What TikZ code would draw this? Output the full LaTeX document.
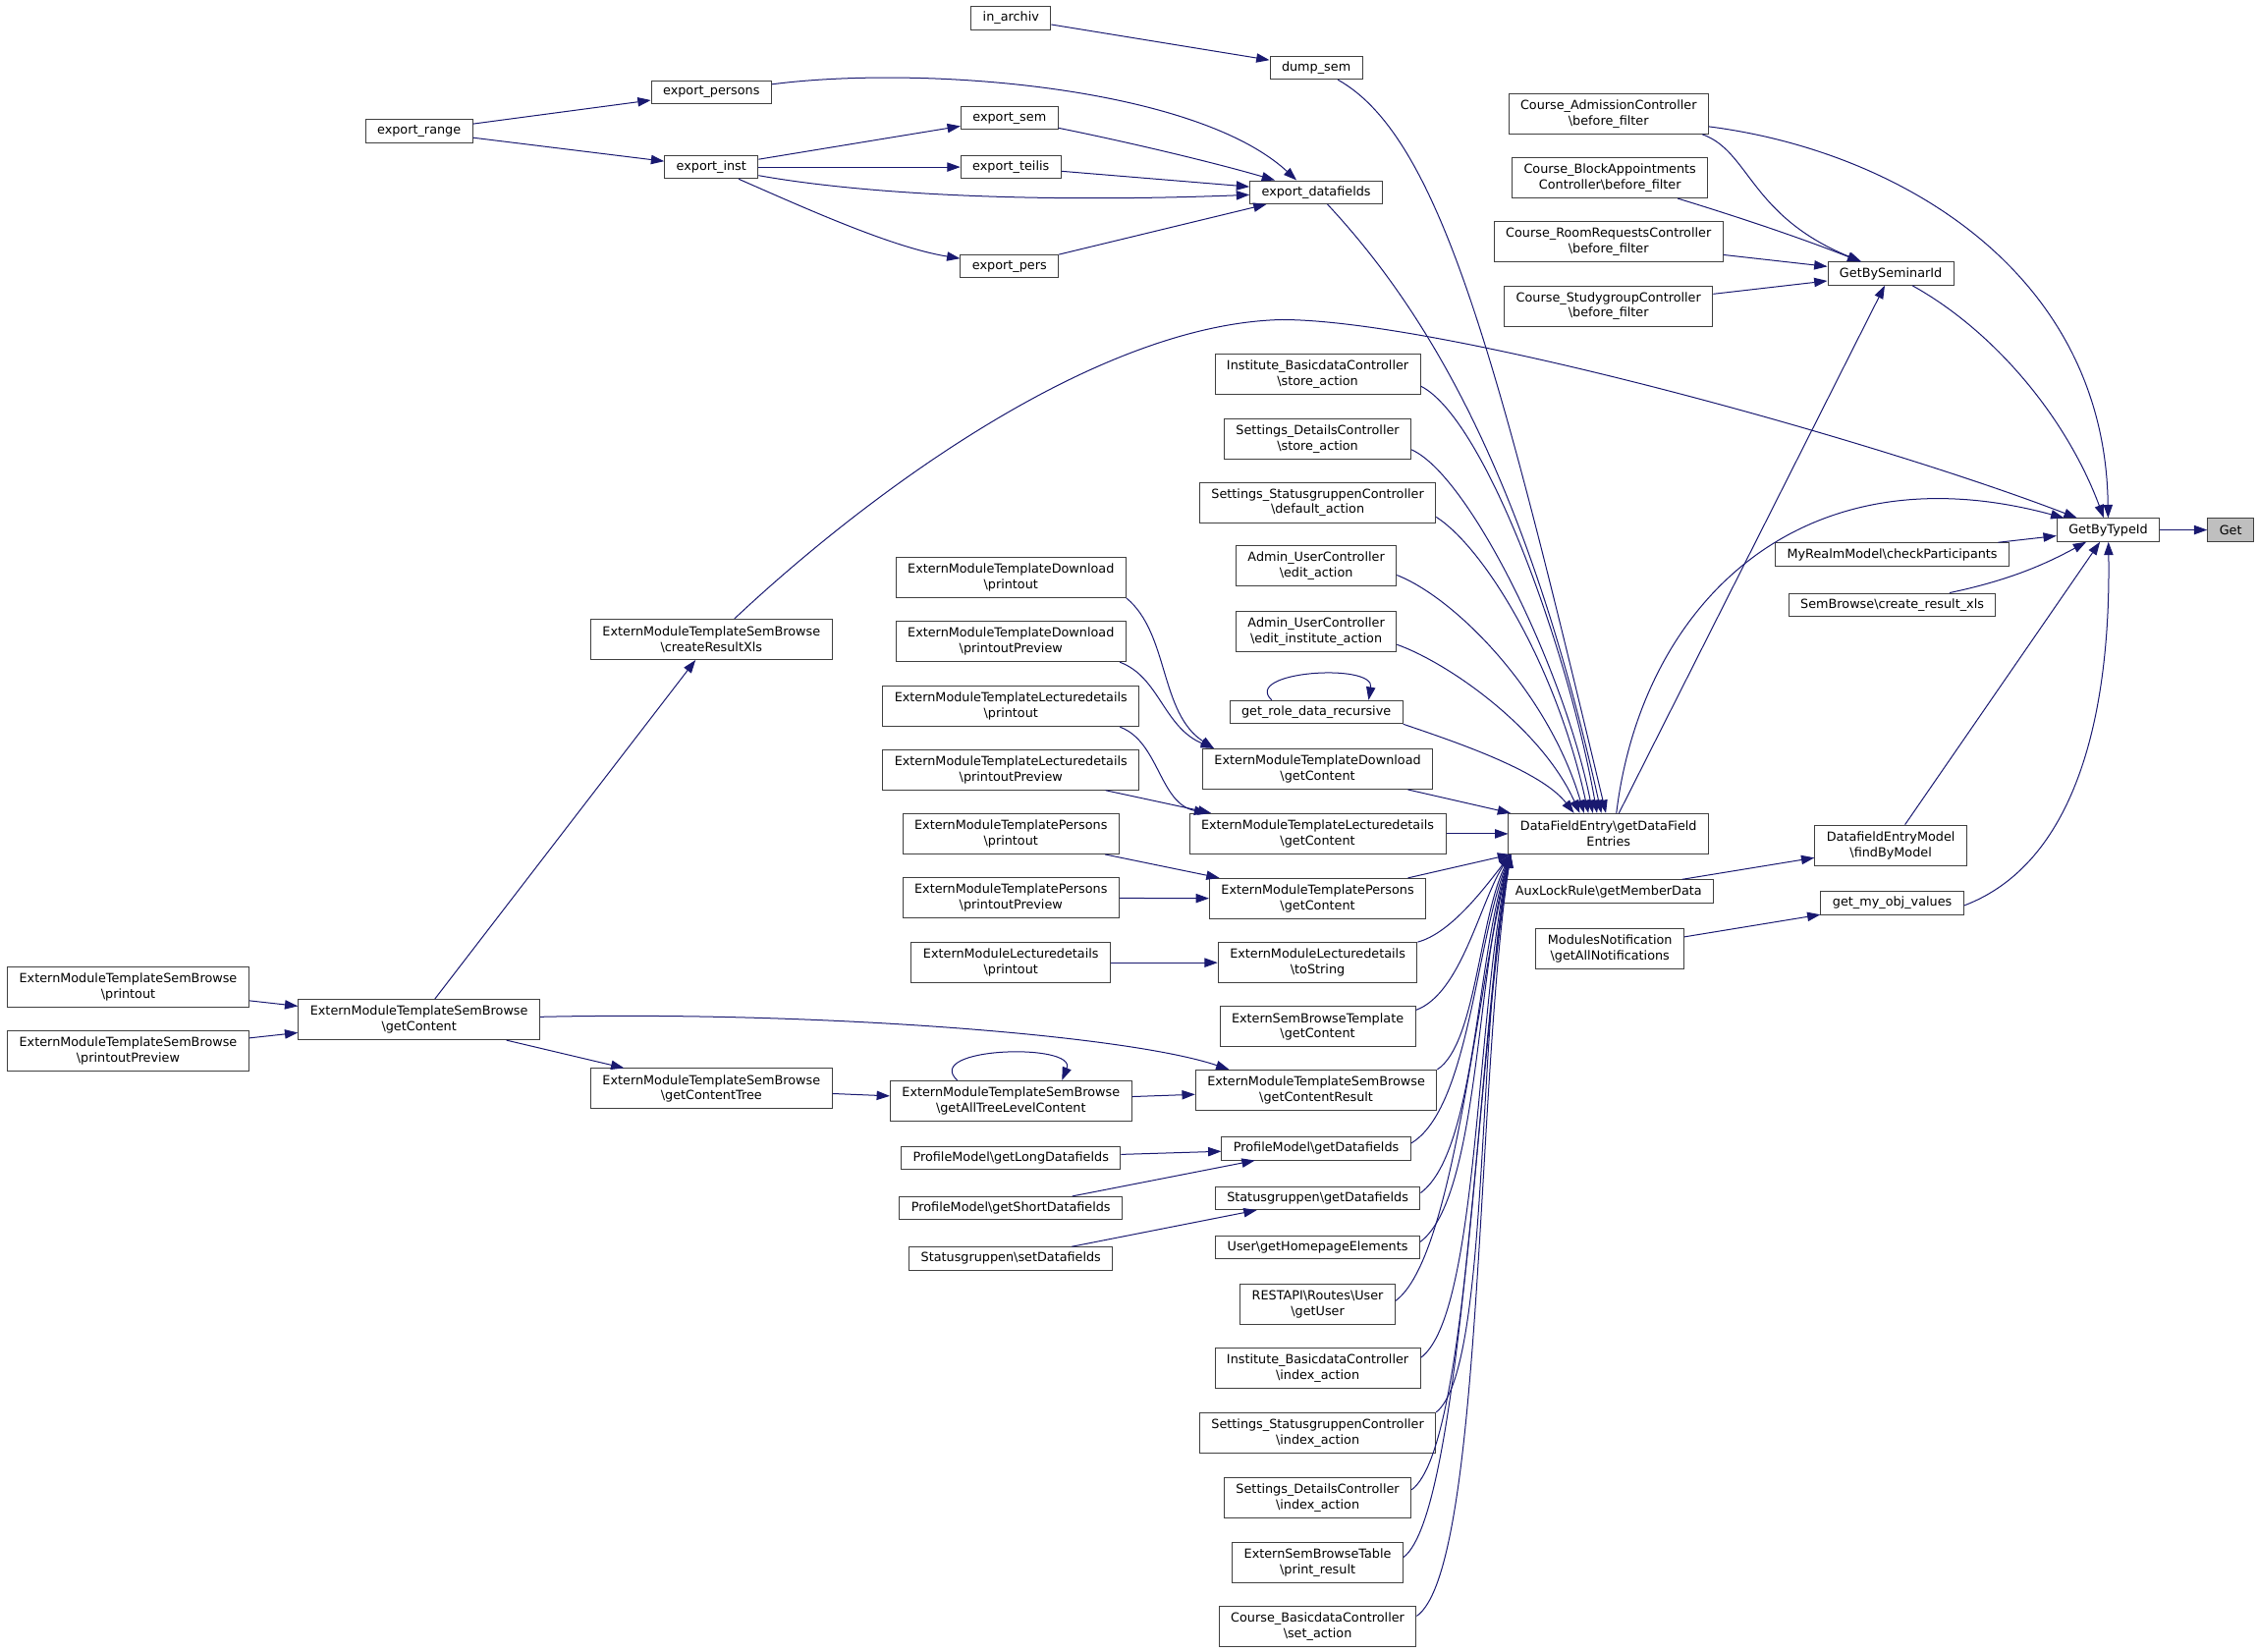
\documentclass[tikz,border=0pt]{standalone}
\usepackage{fontspec}
\setmainfont{DejaVu Sans}
\usetikzlibrary{arrows.meta,positioning}
\definecolor{edgeblue}{HTML}{191970}
\tikzstyle{fn} = [draw=black!75, fill=white, rectangle, line width=0.75pt, minimum height=17.6pt, inner ysep=0pt, inner xsep=9pt, align=center, font=\fontsize{9.6}{11.8}\selectfont]
\tikzstyle{fnn} = [fn, minimum height=30.8pt]
\tikzstyle{edge} = [->, draw=edgeblue, line width=0.75pt]
\newcommand{\bsl}{\textbackslash}

\begin{document}
\begin{tikzpicture}[x=1.1pt, y=-1.1pt, >={Triangle[length=10pt,width=7pt]}]
\useasboundingbox (0,0) rectangle (1568,1147);

% target and right side
\node [fn, fill=black!25] (get) at (1549,368) {Get};
\node [fn, left of=get, node distance=93.5pt] (gettype) {GetByTypeId};
\node [fn] (getsem) at (1313,190) {GetBySeminarId};
\node [fn] (realm) at (1314,385) {MyRealmModel\bsl checkParticipants};
\node [fn] (semxls) at (1314,420) {SemBrowse\bsl create\_result\_xls};
\node [fnn] (findmodel) at (1313,587) {DatafieldEntryModel\\\bsl findByModel};
\node [fn] (objval) at (1314,627) {get\_my\_obj\_values};

\node [fnn] (admis) at (1117,79) {Course\_AdmissionController\\\bsl before\_filter};
\node [fnn] (block) at (1118,123.5) {Course\_BlockAppointments\\Controller\bsl before\_filter};
\node [fnn] (room) at (1117,168) {Course\_RoomRequestsController\\\bsl before\_filter};
\node [fnn] (study) at (1117,212.5) {Course\_StudygroupController\\\bsl before\_filter};
\node [fnn] (dfe) at (1117,579) {DataFieldEntry\bsl getDataField\\Entries};
\node [fn] (aux) at (1117,619) {AuxLockRule\bsl getMemberData};
\node [fnn] (notif) at (1118,659) {ModulesNotification\\\bsl getAllNotifications};

% export functions
\node [fn] (inarchiv) at (702,12.5) {in\_archiv};
\node [fn] (dumpsem) at (914,47) {dump\_sem};
\node [fn] (exrange) at (291,91) {export\_range};
\node [fn] (expersons) at (494,64) {export\_persons};
\node [fn] (exinst) at (494,116) {export\_inst};
\node [fn] (exsem) at (701,82) {export\_sem};
\node [fn] (exteilis) at (702,116) {export\_teilis};
\node [fn] (expers) at (701,185) {export\_pers};
\node [fn] (exdf) at (914,133.5) {export\_datafields};

% callers of getDataFieldEntries
\node [fnn] (instore) at (915,260) {Institute\_BasicdataController\\\bsl store\_action};
\node [fnn] (setstore) at (915,305) {Settings\_DetailsController\\\bsl store\_action};
\node [fnn] (sgdefault) at (915,349) {Settings\_StatusgruppenController\\\bsl default\_action};
\node [fnn] (adminedit) at (914,393) {Admin\_UserController\\\bsl edit\_action};
\node [fnn] (admininst) at (914,438.5) {Admin\_UserController\\\bsl edit\_institute\_action};
\node [fn] (role) at (914,494.5) {get\_role\_data\_recursive};
\node [fnn] (dlgc) at (915,534) {ExternModuleTemplateDownload\\\bsl getContent};
\node [fnn] (ldgc) at (915,579) {ExternModuleTemplateLecturedetails\\\bsl getContent};
\node [fnn] (pegc) at (915,624) {ExternModuleTemplatePersons\\\bsl getContent};
\node [fnn] (tostr) at (915,668.5) {ExternModuleLecturedetails\\\bsl toString};
\node [fnn] (sbtpl) at (915,713) {ExternSemBrowseTemplate\\\bsl getContent};
\node [fnn] (result) at (914,757) {ExternModuleTemplateSemBrowse\\\bsl getContentResult};
\node [fn] (pmgd) at (914,797.5) {ProfileModel\bsl getDatafields};
\node [fn] (sggd) at (915,832) {Statusgruppen\bsl getDatafields};
\node [fn] (homepage) at (915,866) {User\bsl getHomepageElements};
\node [fnn] (rest) at (915,906) {RESTAPI\bsl Routes\bsl User\\\bsl getUser};
\node [fnn] (inindex) at (915,950) {Institute\_BasicdataController\\\bsl index\_action};
\node [fnn] (sgindex) at (915,995) {Settings\_StatusgruppenController\\\bsl index\_action};
\node [fnn] (setindex) at (915,1040) {Settings\_DetailsController\\\bsl index\_action};
\node [fnn] (sbtable) at (915,1085) {ExternSemBrowseTable\\\bsl print\_result};
\node [fnn] (setact) at (915,1129.5) {Course\_BasicdataController\\\bsl set\_action};

% printout column
\node [fnn] (dlprint) at (702,401) {ExternModuleTemplateDownload\\\bsl printout};
\node [fnn] (dlprev) at (702,445.5) {ExternModuleTemplateDownload\\\bsl printoutPreview};
\node [fnn] (ldprint) at (702,490.5) {ExternModuleTemplateLecturedetails\\\bsl printout};
\node [fnn] (ldprev) at (702,534.5) {ExternModuleTemplateLecturedetails\\\bsl printoutPreview};
\node [fnn] (peprint) at (702,579) {ExternModuleTemplatePersons\\\bsl printout};
\node [fnn] (peprev) at (702,623.5) {ExternModuleTemplatePersons\\\bsl printoutPreview};
\node [fnn] (lecprint) at (702,668.5) {ExternModuleLecturedetails\\\bsl printout};
\node [fnn] (treelevel) at (702,764.5) {ExternModuleTemplateSemBrowse\\\bsl getAllTreeLevelContent};
\node [fn] (pmlong) at (702,804) {ProfileModel\bsl getLongDatafields};
\node [fn] (pmshort) at (702,839) {ProfileModel\bsl getShortDatafields};
\node [fn] (sgset) at (702,874) {Statusgruppen\bsl setDatafields};

% SemBrowse module
\node [fnn] (xls) at (494,444) {ExternModuleTemplateSemBrowse\\\bsl createResultXls};
\node [fnn] (tree) at (494,756) {ExternModuleTemplateSemBrowse\\\bsl getContentTree};
\node [fnn] (sbgc) at (291,708) {ExternModuleTemplateSemBrowse\\\bsl getContent};
\node [fnn] (sbprint) at (89,685.5) {ExternModuleTemplateSemBrowse\\\bsl printout};
\node [fnn] (sbprev) at (89,730) {ExternModuleTemplateSemBrowse\\\bsl printoutPreview};

% edges into GetByTypeId / Get
\draw [edge] (gettype) -- (get);
\draw [edge] (getsem) .. controls (1385,230) and (1435,290) .. (gettype);
\draw [edge] (admis) .. controls (1320,105) and (1462,190) .. (gettype);
\draw [edge] ([xshift=6pt]dfe.north) .. controls (1140,420) and (1250,310) .. (gettype);
\draw [edge] ([xshift=17.6pt]xls.north) .. controls (600,345) and (760,225) .. (890,222) .. controls (1000,222) and (1300,305) .. (gettype);
\draw [edge] (realm) -- (gettype);
\draw [edge] (semxls) .. controls (1395,403) and (1420,392) .. (gettype);
\draw [edge] (findmodel) -- (gettype);
\draw [edge] ([yshift=-2pt]objval.east) .. controls (1440,600) and (1466,500) .. (gettype);

% edges into GetBySeminarId
\draw [edge] ([xshift=-5pt]admis.south east) .. controls (1215,105) and (1215,150) .. (getsem);
\draw [edge] (block) .. controls (1205,150) and (1250,165) .. (getsem);
\draw [edge] (room) -- (getsem);
\draw [edge] (study) -- (getsem);
\draw [edge] (dfe) -- (getsem);

% export chain
\draw [edge] (inarchiv) -- (dumpsem);
\draw [edge] (exrange) -- (expersons);
\draw [edge] (exrange) -- (exinst);
\draw [edge] (expersons) .. controls (640,45) and (830,60) .. ([xshift=-15pt]exdf.north);
\draw [edge] (exinst) -- (exsem);
\draw [edge] (exinst) -- (exteilis);
\draw [edge] (exinst) .. controls (600,135) and (720,141) .. (exdf);
\draw [edge] (exinst) .. controls (560,145) and (620,172) .. (expers);
\draw [edge] (exsem) .. controls (780,98) and (840,112) .. (exdf);
\draw [edge] (exteilis) -- (exdf);
\draw [edge] (expers) -- (exdf);

% into getDataFieldEntries from above
\draw [edge] (dumpsem) .. controls (1000,95) and (1040,250) .. ([xshift=-2pt]dfe.north);
\draw [edge] (exdf) .. controls (990,215) and (1060,330) .. ([xshift=-5.5pt]dfe.north);
\draw [edge] ([yshift=-9pt]instore.east) .. controls (1030,290) and (1088,446) .. ([xshift=-8.8pt]dfe.north);
\draw [edge] ([yshift=-8pt]setstore.east) .. controls (1020,330) and (1086,464) .. ([xshift=-12pt]dfe.north);
\draw [edge] ([yshift=-11pt]sgdefault.east) .. controls (1030,380) and (1080,460) .. ([xshift=-15.4pt]dfe.north);
\draw [edge] ([yshift=-7pt]adminedit.east) .. controls (1010,415) and (1075,480) .. ([xshift=-18.7pt]dfe.north);
\draw [edge] ([yshift=-10pt]admininst.east) .. controls (1005,460) and (1070,505) .. ([xshift=-22pt]dfe.north);
\draw [edge] (role.south east) .. controls (1010,515) and (1070,535) .. ([xshift=-26.4pt]dfe.north);
\draw [edge] ([xshift=-34pt]role.north) .. controls (862,466) and (955,460) .. ([xshift=40pt]role.north);
\draw [edge] (dlgc) -- ([xshift=2pt]dfe.north west);
\draw [edge] (ldgc) -- (dfe);

% into getDataFieldEntries from below
\draw [edge] (pegc) -- ([xshift=2pt]dfe.south west);
\draw [edge] (tostr.north east) .. controls (1008,648) and (1032,615) .. ([xshift=2pt]dfe.south west);
\draw [edge] ([yshift=-3pt]sbtpl.north east) .. controls (1015,690) and (1028,625) .. ([xshift=2pt]dfe.south west);
\draw [edge] (result.north east) .. controls (1025,725) and (1027,638) .. ([xshift=2pt]dfe.south west);
\draw [edge] ([yshift=4pt]pmgd.east) .. controls (1020,770) and (1025,653) .. ([xshift=2pt]dfe.south west);
\draw [edge] ([yshift=4pt]sggd.east) .. controls (1025,800) and (1025,664) .. ([xshift=2pt]dfe.south west);
\draw [edge] ([yshift=4pt]homepage.east) .. controls (1027,832) and (1025,674) .. ([xshift=2pt]dfe.south west);
\draw [edge] ([yshift=3pt]rest.east) .. controls (1010,873) and (1025,686) .. ([xshift=2pt]dfe.south west);
\draw [edge] ([yshift=8pt]inindex.east) .. controls (1027,913) and (1025,698) .. ([xshift=2pt]dfe.south west);
\draw [edge] (sgindex.north east) .. controls (1035,951) and (1025,709) .. ([xshift=2pt]dfe.south west);
\draw [edge] ([yshift=6pt]setindex.east) .. controls (1021,1005) and (1025,726) .. ([xshift=2pt]dfe.south west);
\draw [edge] ([yshift=4pt]sbtable.east) .. controls (1015,1051) and (1025,739) .. ([xshift=2pt]dfe.south west);
\draw [edge] ([yshift=8pt]setact.east) .. controls (1030,1090) and (1025,752) .. ([xshift=2pt]dfe.south west);

% printout callers
\draw [edge] (dlprint.south east) .. controls (812,440) and (805,495) .. ([xshift=9pt]dlgc.north west);
\draw [edge] ([xshift=-5pt]dlprev.south east) .. controls (805,470) and (808,505) .. ([xshift=9pt]dlgc.north west);
\draw [edge] ([xshift=-15pt]ldprint.south east) .. controls (805,515) and (805,558) .. ([xshift=14pt]ldgc.north west);
\draw [edge] ([xshift=-26pt]ldprev.south east) -- ([xshift=17pt]ldgc.north west);
\draw [edge] ([xshift=-11pt]peprint.south east) -- ([xshift=8pt]pegc.north west);
\draw [edge] (peprev) -- (pegc);
\draw [edge] (lecprint) -- (tostr);

% SemBrowse chain
\draw [edge] (sbprint) -- (sbgc);
\draw [edge] (sbprev) -- (sbgc);
\draw [edge] (sbgc) -- (xls);
\draw [edge] (sbgc) -- (tree);
\draw [edge] (sbgc) .. controls (560,702) and (780,718) .. ([xshift=26pt]result.north west);
\draw [edge] (tree) -- (treelevel);
\draw [edge] (treelevel) -- (result);
\draw [edge] ([xshift=-41pt]treelevel.north) .. controls (640,727) and (748,724) .. ([xshift=39pt]treelevel.north);

% datafield helpers
\draw [edge] (pmlong) -- (pmgd);
\draw [edge] (pmshort) -- (pmgd);
\draw [edge] (sgset) -- (sggd);
\draw [edge] (aux) -- (findmodel);
\draw [edge] (notif) -- (objval);

\end{tikzpicture}
\end{document}
